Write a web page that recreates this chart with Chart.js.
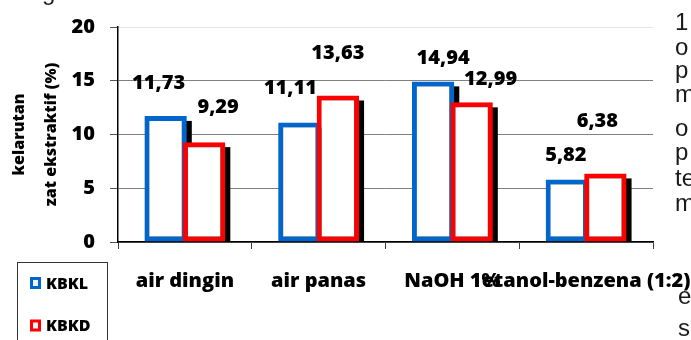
<!DOCTYPE html>
<html>
<head>
<meta charset="utf-8">
<script src="https://cdn.jsdelivr.net/npm/chart.js@4/dist/chart.umd.min.js"></script>
<style>
  html, body { margin: 0; padding: 0; background: #fff; }
  #wrap { position: relative; width: 691px; height: 340px; overflow: hidden; }
  #wrap canvas { position: absolute; left: 0; top: 0; }
  .side { position: absolute; font-family: "Liberation Sans", Arial, sans-serif; font-size: 24px;
          line-height: 20px; color: #1a1a1a; white-space: nowrap; }
</style>
</head>
<body>
<div id="wrap">
  <canvas id="c" width="691" height="340"></canvas>
  <span class="side" style="left:42px;top:-18px">g</span>
  <span class="side" style="left:675px;top:12px">1</span>
  <span class="side" style="left:675px;top:37px">o</span>
  <span class="side" style="left:675px;top:60px">p</span>
  <span class="side" style="left:675px;top:84px">m</span>
  <span class="side" style="left:675px;top:118px">o</span>
  <span class="side" style="left:675px;top:142px">p</span>
  <span class="side" style="left:675px;top:168px">te</span>
  <span class="side" style="left:675px;top:193px">m</span>
  <span class="side" style="left:678px;top:286px">e</span>
  <span class="side" style="left:678px;top:318px">s</span>
</div>
<script>
// Kelarutan zat ekstraktif per pelarut
const categories = ['air dingin', 'air panas', 'NaOH 1%', 'etanol-benzena (1:2)'];
const seriesNames = ['KBKL', 'KBKD'];
const kbkl = [11.73, 11.11, 14.94, 5.82];
const kbkd = [9.29, 13.63, 12.99, 6.38];
const yTicks = [0, 5, 10, 15, 20];

// value labels are nudged (px) from each bar's top centre
const kbklLabelNudge = [[-7, -27], [-9, -29], [10, -17], [-1, -18]];
const kbkdLabelNudge = [[14, -29], [0, -36], [19, -17], [-8, -46]];

const FONT = '"Open Sans", "Liberation Sans", Arial, sans-serif';
const WEIGHT = '800';
const fmt = v => v.toFixed(2).replace('.', ',');

// bars with a hard black drop shadow, drawn series by series so KBKD sits on top
const shadowBars = {
  id: 'shadowBars',
  beforeDatasetsDraw(chart) {
    const ctx = chart.ctx;
    chart.data.datasets.forEach((ds, i) => {
      const meta = chart.getDatasetMeta(i);
      ctx.save();
      ctx.fillStyle = '#000';
      meta.data.forEach(bar => {
        const p = bar.getProps(['x', 'y', 'base', 'width'], true);
        ctx.fillRect(p.x - p.width / 2 + 5, p.y + 5, p.width, p.base - p.y - 5);
      });
      ctx.restore();
      meta.controller.draw();
    });
    return false;
  }
};

// value labels above the bars
const valueLabels = {
  id: 'valueLabels',
  afterDraw(chart) {
    const ctx = chart.ctx;
    const nudges = [kbklLabelNudge, kbkdLabelNudge];
    ctx.save();
    ctx.font = WEIGHT + ' 20px ' + FONT;
    ctx.fillStyle = '#000';
    ctx.textAlign = 'center';
    ctx.textBaseline = 'alphabetic';
    chart.data.datasets.forEach((ds, i) => {
      const meta = chart.getDatasetMeta(i);
      meta.data.forEach((bar, j) => {
        const p = bar.getProps(['x', 'y'], true);
        const n = nudges[i][j];
        ctx.fillText(fmt(ds.data[j]), p.x + n[0], p.y + n[1]);
      });
    });
    ctx.restore();
  }
};

// boxed legend in the lower-left corner
const boxLegend = {
  id: 'boxLegend',
  afterDraw(chart) {
    const ctx = chart.ctx;
    ctx.save();
    ctx.strokeStyle = '#333';
    ctx.lineWidth = 1;
    ctx.strokeRect(17.5, 262.5, 90, 100);
    ctx.font = WEIGHT + ' 16px ' + FONT;
    ctx.textBaseline = 'alphabetic';
    ctx.textAlign = 'left';
    chart.data.datasets.forEach((ds, i) => {
      const cy = 283 + i * 42.5;
      ctx.fillStyle = '#eef0fa';
      ctx.fillRect(32, cy - 4, 7, 8);
      ctx.strokeStyle = ds.borderColor;
      ctx.lineWidth = 3;
      ctx.strokeRect(31.5, cy - 4.5, 8, 9);
      ctx.fillStyle = '#000';
      ctx.fillText(ds.label, 46, cy + 5.5);
    });
    ctx.restore();
  }
};

new Chart(document.getElementById('c'), {
  type: 'bar',
  data: {
    labels: categories,
    datasets: [
      { label: seriesNames[0], data: kbkl, backgroundColor: '#fff', borderColor: '#0066cc',
        borderWidth: 5, borderSkipped: false },
      { label: seriesNames[1], data: kbkd, backgroundColor: '#fff', borderColor: '#ff0000',
        borderWidth: 5, borderSkipped: false }
    ]
  },
  options: {
    responsive: false,
    animation: false,
    devicePixelRatio: 1,
    layout: { padding: { top: 23, right: 38, bottom: 0, left: 0 } },
    datasets: { bar: { categoryPercentage: 0.576, barPercentage: 1.1 } },
    plugins: { legend: { display: false }, tooltip: { enabled: false } },
    scales: {
      x: {
        grid: { offset: true, drawOnChartArea: false, drawTicks: true, tickLength: 7,
                color: '#404040', lineWidth: 1 },
        border: { display: true, color: '#000', width: 1.5 },
        ticks: { autoSkip: false, maxRotation: 0, minRotation: 0, padding: 20, color: '#000',
                 font: { family: FONT, size: 20, weight: WEIGHT } },
        afterFit(scale) { scale.height = 98; scale.paddingLeft = 0; scale.paddingRight = 0; }
      },
      y: {
        min: 0, max: 20,
        afterBuildTicks(scale) { scale.ticks = yTicks.map(v => ({ value: v })); },
        grid: {
          color: c => (c.tick && c.tick.value === 20) ? '#e4e4e4' : '#808080',
          tickColor: '#555', tickLength: 8, lineWidth: 1
        },
        border: { display: true, color: '#000', width: 1.5 },
        ticks: { padding: 15, color: '#000', font: { family: FONT, size: 20, weight: WEIGHT } },
        title: { display: true, text: ['kelarutan', 'zat ekstraktif (%)'], color: '#000',
                 padding: { top: 3, bottom: 0 },
                 font: { family: FONT, size: 16, weight: WEIGHT, lineHeight: 2 } },
        afterFit(scale) { scale.width = 118; }
      }
    }
  },
  plugins: [shadowBars, valueLabels, boxLegend]
});
</script>
</body>
</html>
